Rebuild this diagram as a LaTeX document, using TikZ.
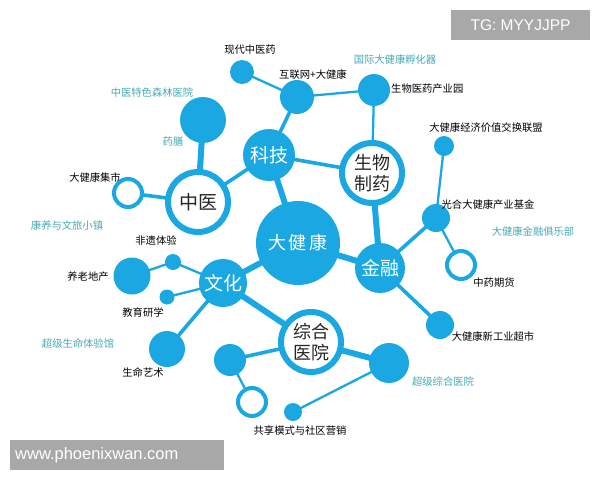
\documentclass[tikz,border=0pt]{standalone}
\usepackage{fontspec}
\setmainfont{Liberation Sans}
\newfontfamily\cjk{Noto Sans CJK SC}
\usetikzlibrary{backgrounds}
\definecolor{hb}{HTML}{1BA8E2}
\definecolor{teal2}{HTML}{45A9B3}
\definecolor{wm}{HTML}{A8A8A8}
\tikzset{
  fc/.style={circle, fill=hb, inner sep=0pt, minimum size=#1},
  rc/.style={circle, draw=hb, fill=white, line width=4pt, inner sep=0pt, minimum size=#1},
  bigring/.style={circle, draw=hb, fill=white, line width=6pt, inner sep=0pt, minimum size=#1},
  lbl/.style={font=\cjk\fontsize{10.3}{12}\selectfont, text=black, inner sep=0pt},
  tlbl/.style={font=\cjk\fontsize{10.3}{12}\selectfont, text=teal2, inner sep=0pt},
  mainw/.style={font=\cjk\fontsize{19}{22}\selectfont, text=white, align=center},
  maink/.style={font=\cjk\fontsize{19}{22}\selectfont, text=black!85, align=center},
  ea/.style={draw=hb, line width=2.3pt},
  eb/.style={draw=hb, line width=3.6pt},
  ec/.style={draw=hb, line width=6pt},
}
\begin{document}
\begin{tikzpicture}[x=1pt,y=-1pt]
\useasboundingbox (0,0) rectangle (600,480);
% main hubs
\node[fc=84pt, mainw, font=\cjk\fontsize{18}{20}\selectfont] (djk) at (298,243) {大\,健\,康};
\node[fc=52pt, mainw] (kj) at (269,155) {科技};
\node[bigring=60pt, maink] (zy) at (198,202) {中医};
\node[bigring=60pt, maink, font=\cjk\fontsize{18}{21}\selectfont] (swzy) at (372,173) {生物\\制药};
\node[fc=50pt, mainw] (jr) at (380,268) {金融};
\node[fc=48pt, mainw] (wh) at (223,283) {文化};
\node[bigring=60pt, maink, font=\cjk\fontsize{18}{21}\selectfont] (zhyy) at (311,342) {综合\\医院};
% satellites
\node[fc=24pt] (xdzy) at (242,72) {};
\node[fc=34pt] (hlw) at (297,97) {};
\node[fc=32pt] (swyy) at (374,90) {};
\node[fc=46pt] (slyy) at (203,120) {};
\node[rc=28pt] (jishi) at (128,193) {};
\node[fc=20pt] (lm) at (444,146) {};
\node[fc=28pt] (gh) at (436,218) {};
\node[rc=28pt] (qh) at (461,265) {};
\node[fc=28pt] (cs) at (440,325) {};
\node[fc=40pt] (cjzh) at (389,363) {};
\node[fc=32pt] (zl) at (230,360) {};
\node[rc=28pt] (zr) at (252,402) {};
\node[fc=18pt] (gx) at (293,412) {};
\node[fc=16pt] (fy) at (173,262) {};
\node[fc=37pt] (yl) at (132,276) {};
\node[fc=15pt] (jy) at (167,297) {};
\node[fc=36pt] (smys) at (167,349) {};
% edges
\begin{scope}[on background layer]
\draw[ea] (xdzy.center) -- (hlw.center);
\draw[ea] (hlw.center) -- (swyy.center);
\draw[eb] (hlw.center) -- (kj.center);
\draw[ea] (swyy.center) -- (swzy.center);
\draw[eb] (kj.center) -- (swzy.center);
\draw[eb] (kj.center) -- (zy.center);
\draw[ec] (kj.center) -- (djk.center);
\draw[ec] (zy.center) -- (slyy.center);
\draw[eb] (zy.center) -- (jishi.center);
\draw[ec] (djk.center) -- (jr.center);
\draw[ec] (swzy.center) -- (jr.center);
\draw[eb] (jr.center) -- (gh.center);
\draw[ea] (gh.center) -- (lm.center);
\draw[ea] (gh.center) -- (qh.center);
\draw[eb] (jr.center) -- (cs.center);
\draw[ec] (djk.center) -- (wh.center);
\draw[ea] (wh.center) -- (fy.center);
\draw[ea] (fy.center) -- (yl.center);
\draw[ea] (wh.center) -- (jy.center);
\draw[eb] (wh.center) -- (smys.center);
\draw[ec] (wh.center) -- (zhyy.center);
\draw[eb] (zhyy.center) -- (zl.center);
\draw[ea] (zl.center) -- (zr.center);
\draw[ec] (zhyy.center) -- (cjzh.center);
\draw[ea] (cjzh.center) -- (gx.center);
\end{scope}
% labels
\node[lbl] (l1) at (250,50) {现代中医药};
\node[lbl] (l2) at (313,75) {互联网+大健康};
\node[lbl, anchor=west] (l3) at (391,89) {生物医药产业园};
\node[tlbl] (l4) at (395,60) {国际大健康孵化器};
\node[tlbl] (l5) at (152,93) {中医特色森林医院};
\node[tlbl] (l6) at (173,142) {药膳};
\node[lbl] (l7) at (95,178) {大健康集市};
\node[tlbl] (l8) at (67,226) {康养与文旅小镇};
\node[lbl] (l9) at (486,128) {大健康经济价值交换联盟};
\node[lbl] (l10) at (488,205) {光合大健康产业基金};
\node[tlbl] (l11) at (533,232) {大健康金融俱乐部};
\node[lbl] (l12) at (494,283) {中药期货};
\node[lbl] (l13) at (493,337) {大健康新工业超市};
\node[tlbl] (l14) at (443,382) {超级综合医院};
\node[lbl] (l15) at (300,431) {共享模式与社区营销};
\node[lbl] (l16) at (156,241) {非遗体验};
\node[lbl] (l17) at (88,277) {养老地产};
\node[lbl] (l18) at (143,313) {教育研学};
\node[tlbl] (l19) at (78,344) {超级生命体验馆};
\node[lbl] (l20) at (143,373) {生命艺术};
% watermarks
\node[fill=wm, text=white, font=\fontsize{15.5}{18}\selectfont, minimum width=139pt, minimum height=30pt, inner sep=0pt] (tg) at (520.5,25) {TG: MYYJJPP};
\node[fill=wm, text=white, font=\fontsize{16.5}{18}\selectfont, minimum width=214pt, minimum height=30pt, inner sep=0pt, anchor=west, text width=204pt, align=left] (www) at (10,455) {www.phoenixwan.com};
\end{tikzpicture}
\end{document}
